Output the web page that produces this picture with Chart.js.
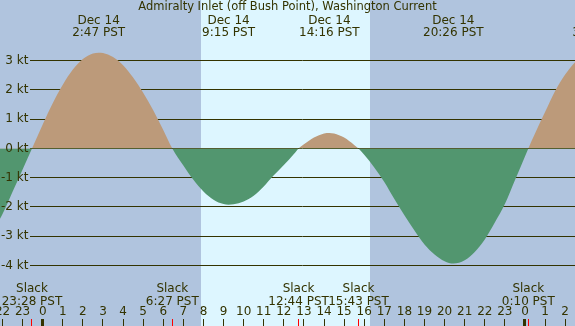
<!DOCTYPE html>
<html>
<head>
<meta charset="utf-8">
<script src="https://cdn.jsdelivr.net/npm/chart.js@4.4.1/dist/chart.umd.min.js"></script>
<style>
  html, body { margin: 0; padding: 0; background: #B0C4DE; }
  #current { display: block; }
</style>
</head>
<body>
<canvas id="current" width="575" height="326"></canvas>
<script>
// hours from midnight Dec 14 (PST), current in knots (+ flood, - ebb)
const hours = [-3.5, -3, -2.5, -2, -1.5, -1, -0.533, 0, 0.5, 1, 1.5, 2, 2.5, 2.783, 3, 3.5, 4, 4.5, 5, 5.5, 6, 6.45,
    7, 7.5, 8, 8.5, 9, 9.25, 9.5, 10, 10.5, 11, 11.5, 12, 12.5, 12.733, 13, 13.5, 14, 14.267, 14.5, 15, 15.5, 15.717,
    16, 16.5, 17, 17.5, 18, 18.5, 19, 19.5, 20, 20.433, 21, 21.5, 22, 22.5, 23, 23.5, 24, 24.167,
    24.5, 25, 25.5, 26, 26.5, 27, 27.667];
const knots = [-3.1, -3.05, -2.8, -2.24, -1.48, -0.72, 0, 0.82, 1.54, 2.17, 2.69, 3.05, 3.24, 3.27, 3.26, 3.12, 2.84, 2.42, 1.90, 1.30, 0.63, 0,
    -0.58, -1.07, -1.47, -1.75, -1.90, -1.92, -1.91, -1.81, -1.62, -1.30, -0.92, -0.57, -0.19, 0, 0.14, 0.37, 0.51, 0.53, 0.51, 0.37, 0.12, 0,
    -0.22, -0.65, -1.15, -1.73, -2.28, -2.80, -3.28, -3.62, -3.85, -3.93, -3.82, -3.54, -3.11, -2.53, -1.90, -1.09, -0.28, 0,
    0.51, 1.24, 1.96, 2.52, 2.95, 3.25, 3.4];

const peakHours = [2.783, 9.25, 14.267, 20.433, 27.667];
const peakDates = ["Dec 14", "Dec 14", "Dec 14", "Dec 14", "Dec 15"];
const peakTimes = ["2:47", "9:15", "14:16", "20:26", "3:40"];

const slackHours = [-0.533, 6.45, 12.733, 15.717, 24.167];
const slackTimes = ["23:28", "6:27", "12:44", "15:43", "0:10"];

const tickHours = [-2, -1, 0, 1, 2, 3, 4, 5, 6, 7, 8, 9, 10, 11, 12, 13, 14, 15, 16, 17, 18, 19, 20, 21, 22, 23, 24, 25, 26];
const yTicks = [3, 2, 1, 0, -1, -2, -3, -4];

const sunrise = 7.88;
const sunset = 16.29;

const TITLE = "Admiralty Inlet (off Bush Point), Washington Current";
const INK = "#333300";
const NIGHT = "#B0C4DE";
const DAY = "#DDF6FF";
const FLOOD = "#BC9A7A";
const EBB = "#52966F";

const X_MIN = -2.125;
const X_MAX = 26.49;

Chart.defaults.font.family = '"DejaVu Sans", sans-serif';
Chart.defaults.font.size = 12;

const decorPlugin = {
    id: "tideDecor",
    beforeDraw(chart) {
        const { ctx, width, height, scales: { x } } = chart;
        ctx.save();
        ctx.fillStyle = NIGHT;
        ctx.fillRect(0, 0, width, height);
        const x0 = Math.round(x.getPixelForValue(sunrise));
        const x1 = Math.round(x.getPixelForValue(sunset));
        ctx.fillStyle = DAY;
        ctx.fillRect(x0, 0, x1 - x0, height);
        ctx.restore();
    },
    beforeDatasetsDraw(chart) {
        const { ctx, chartArea, scales: { y } } = chart;
        ctx.save();
        ctx.strokeStyle = INK;
        ctx.lineWidth = 1;
        yTicks.forEach(v => {
            const py = Math.round(y.getPixelForValue(v) - 0.5) + 0.5;
            ctx.beginPath();
            ctx.moveTo(30, py);
            ctx.lineTo(chartArea.right, py);
            ctx.stroke();
        });
        ctx.restore();
    },
    afterDraw(chart) {
        const { ctx, width, scales: { x } } = chart;
        ctx.save();
        ctx.fillStyle = INK;
        ctx.textAlign = "center";
        ctx.textBaseline = "alphabetic";
        ctx.font = '11.5px "DejaVu Sans"';
        ctx.fillText(TITLE, width / 2, 10);
        ctx.font = '12px "DejaVu Sans"';
        peakHours.forEach((h, i) => {
            const px = x.getPixelForValue(h);
            ctx.fillText(peakDates[i], px, 24);
            ctx.fillText(`${peakTimes[i]} PST`, px, 36);
        });
        slackHours.forEach((h, i) => {
            const px = x.getPixelForValue(h);
            ctx.fillText("Slack", px, 292);
            ctx.fillText(`${slackTimes[i]} PST`, px, 305);
        });
        ctx.restore();
    }
};

new Chart(document.getElementById("current").getContext("2d"), {
    type: "line",
    data: {
        datasets: [{
            data: hours.map((h, i) => ({ x: h, y: knots[i] })),
            fill: { target: { value: 0 }, above: FLOOD, below: EBB },
            borderWidth: 0,
            pointRadius: 0,
            cubicInterpolationMode: "monotone"
        }]
    },
    options: {
        responsive: false,
        animation: false,
        devicePixelRatio: 1,
        layout: { padding: 0 },
        plugins: {
            legend: { display: false },
            tooltip: { enabled: false }
        },
        scales: {
            // hour labels
            x: {
                type: "linear",
                position: "bottom",
                weight: 0,
                min: X_MIN,
                max: X_MAX,
                afterBuildTicks: s => { s.ticks = tickHours.map(v => ({ value: v })); },
                afterFit: s => { s.height = 14; s.paddingLeft = 0; s.paddingRight = 0; },
                border: { display: false },
                grid: { display: false, drawTicks: false },
                ticks: {
                    autoSkip: false,
                    maxRotation: 0,
                    padding: 0,
                    color: INK,
                    callback: v => String((v + 24) % 24)
                }
            },
            // hour tick marks, red ones at slack water
            marks: {
                type: "linear",
                position: "bottom",
                weight: 1,
                min: X_MIN,
                max: X_MAX,
                afterBuildTicks: s => { s.ticks = tickHours.concat(slackHours).map(v => ({ value: v })); },
                afterFit: s => { s.height = 7; s.paddingLeft = 0; s.paddingRight = 0; },
                border: { display: false },
                grid: {
                    drawOnChartArea: false,
                    drawTicks: true,
                    tickLength: 7,
                    tickColor: c => (c.tick && slackHours.includes(c.tick.value)) ? "#FF0000" : INK,
                    tickWidth: c => (c.tick && c.tick.value % 24 === 0) ? 3 : 1
                },
                ticks: { display: false }
            },
            y: {
                min: -5.347,
                max: 5.067,
                afterBuildTicks: s => { s.ticks = yTicks.map(v => ({ value: v })); },
                afterFit: s => { s.width = 0; s.paddingTop = 0; s.paddingBottom = 0; },
                border: { display: false },
                grid: { display: false, drawTicks: false },
                ticks: {
                    mirror: true,
                    crossAlign: "far",
                    padding: 1,
                    z: 1,
                    color: INK,
                    callback: v => `${v} kt`
                }
            }
        }
    },
    plugins: [decorPlugin]
});
</script>
</body>
</html>
